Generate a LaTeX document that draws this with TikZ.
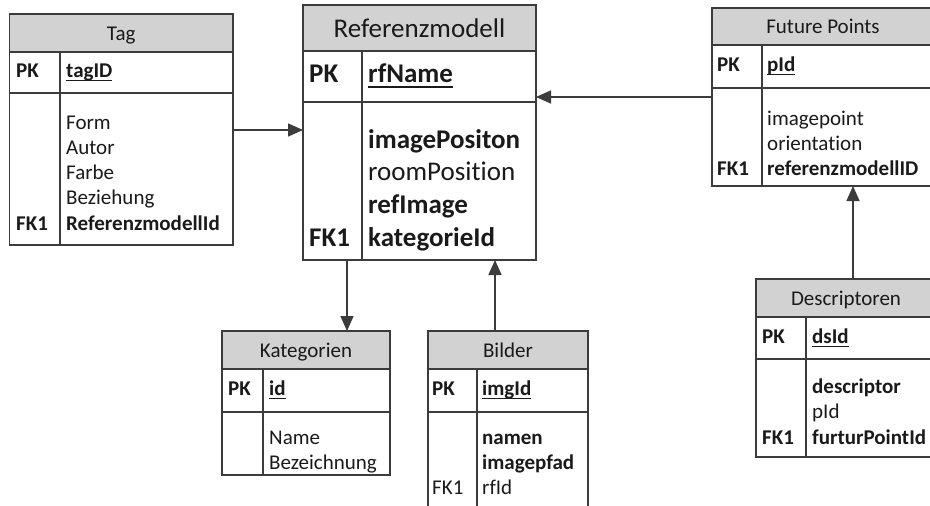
\documentclass[tikz,border=0pt]{standalone}
\usepackage{fontspec}
\setmainfont{Carlito}[Ligatures=NoCommon]
\usetikzlibrary{arrows.meta}

\definecolor{linec}{HTML}{3C3C3C}
\definecolor{hdrc}{HTML}{D2D2D2}
\definecolor{txtc}{HTML}{1A1A1A}

\newcommand\tabfont{\fontsize{21pt}{25pt}\selectfont}
\newcommand\bigtabfont{\fontsize{27pt}{33pt}\selectfont}
% underlined primary key name
\newcommand\pkul[1]{\setbox0=\hbox{#1}\rlap{\raisebox{-0.21em}{\rule{\wd0}{0.065em}}}\box0}

\tikzset{
  frame/.style={draw=linec, line width=1.3pt, inner sep=0pt, outer sep=0pt, anchor=north west},
  sepline/.style={draw=linec, line width=1.3pt},
  txt/.style={anchor=base west, inner sep=0pt, text=txtc, font=\tabfont},
  ttl/.style={anchor=base, inner sep=0pt, text=txtc, font=\tabfont},
  bigtxt/.style={txt, font=\bigtabfont},
  bigttl/.style={ttl, font=\bigtabfont},
  rel/.style={draw=linec, line width=1.6pt, -{Triangle[length=15pt,width=13pt]}},
}

\begin{document}
\begin{tikzpicture}[x=1pt,y=-1pt]
\useasboundingbox (0,0) rectangle (930,506);
\clip (0,0) rectangle (930,506);
\fill[white] (0,0) rectangle (930,506);

% ---------- Tag ----------
\fill[hdrc] (9.5,14) rectangle (233,52);
\node[frame, minimum width=223.5pt, minimum height=231pt] (tag) at (9.5,14) {};
\draw[sepline] (tag.west |- 0,52) -- (tag.east |- 0,52);
\draw[sepline] (tag.west |- 0,93) -- (tag.east |- 0,93);
\draw[sepline] (60,52) -- (tag.south -| 60,0);
\node[ttl] (tagT) at (121.25,41) {Tag};
\node[txt] (tagPK) at (16,77) {\bfseries PK};
\node[txt] (tagK) at (66,77) {\bfseries\pkul{tagID}};
\node[txt] (tagA1) at (66,129.2) {Form};
\node[txt] (tagA2) at (66,154.4) {Autor};
\node[txt] (tagA3) at (66,179.6) {Farbe};
\node[txt] (tagA4) at (66,204.8) {Beziehung};
\node[txt] (tagA5) at (66,230) {\bfseries ReferenzmodellId};
\node[txt] (tagFK) at (16,230) {\bfseries FK1};

% ---------- Referenzmodell ----------
\fill[hdrc] (303,5) rectangle (536,51);
\node[frame, minimum width=233pt, minimum height=255pt] (ref) at (303,5) {};
\draw[sepline] (ref.west |- 0,51) -- (ref.east |- 0,51);
\draw[sepline] (ref.west |- 0,102) -- (ref.east |- 0,102);
\draw[sepline] (362,51) -- (ref.south -| 362,0);
\node[bigttl] (refT) at (419.5,37) {Referenzmodell};
\node[bigtxt] (refPK) at (309,82) {\bfseries PK};
\node[bigtxt] (refK) at (368,82) {\bfseries\pkul{rfName}};
\node[bigtxt] (refA1) at (368,148) {\bfseries imagePositon};
\node[bigtxt] (refA2) at (368,180.7) {roomPosition};
\node[bigtxt] (refA3) at (368,213.3) {\bfseries refImage};
\node[bigtxt] (refA4) at (368,246) {\bfseries kategorieId};
\node[bigtxt] (refFK) at (309,246) {\bfseries FK1};

% ---------- Future Points ----------
\fill[hdrc] (712,8) rectangle (934,45);
\node[frame, minimum width=222pt, minimum height=178pt] (fp) at (712,8) {};
\draw[sepline] (fp.west |- 0,45) -- (fp.east |- 0,45);
\draw[sepline] (fp.west |- 0,88) -- (fp.east |- 0,88);
\draw[sepline] (762,45) -- (fp.south -| 762,0);
\node[ttl] (fpT) at (823,33.5) {Future Points};
\node[txt] (fpPK) at (717,71) {\bfseries PK};
\node[txt] (fpK) at (767,71) {\bfseries\pkul{pId}};
\node[txt] (fpA1) at (767,125) {imagepoint};
\node[txt] (fpA2) at (767,150.3) {orientation};
\node[txt] (fpA3) at (767,175.6) {\bfseries referenzmodellID};
\node[txt] (fpFK) at (717,175.6) {\bfseries FK1};

% ---------- Descriptoren ----------
\fill[hdrc] (756,279) rectangle (936,317);
\node[frame, minimum width=180pt, minimum height=178pt] (desc) at (756,279) {};
\draw[sepline] (desc.west |- 0,317) -- (desc.east |- 0,317);
\draw[sepline] (desc.west |- 0,359) -- (desc.east |- 0,359);
\draw[sepline] (806,317) -- (desc.south -| 806,0);
\node[ttl] (descT) at (846,305.5) {Descriptoren};
\node[txt] (descPK) at (762,343) {\bfseries PK};
\node[txt] (descK) at (812,343) {\bfseries\pkul{dsId}};
\node[txt] (descA1) at (812,393.4) {\bfseries descriptor};
\node[txt] (descA2) at (812,418.7) {pId};
\node[txt] (descA3) at (812,444) {\bfseries furturPointId};
\node[txt] (descFK) at (762,444) {\bfseries FK1};

% ---------- Kategorien ----------
\fill[hdrc] (222,331) rectangle (390,369);
\node[frame, minimum width=168pt, minimum height=144pt] (kat) at (222,331) {};
\draw[sepline] (kat.west |- 0,369) -- (kat.east |- 0,369);
\draw[sepline] (kat.west |- 0,412) -- (kat.east |- 0,412);
\draw[sepline] (263,369) -- (kat.south -| 263,0);
\node[ttl] (katT) at (306,357) {Kategorien};
\node[txt] (katPK) at (228,395) {\bfseries PK};
\node[txt] (katK) at (269,395) {\bfseries\pkul{id}};
\node[txt] (katA1) at (269,444) {Name};
\node[txt] (katA2) at (269,469) {Bezeichnung};

% ---------- Bilder ----------
\fill[hdrc] (428,331) rectangle (588,369);
\node[frame, minimum width=160pt, minimum height=200pt] (bil) at (428,331) {};
\draw[sepline] (bil.west |- 0,369) -- (bil.east |- 0,369);
\draw[sepline] (bil.west |- 0,412) -- (bil.east |- 0,412);
\draw[sepline] (477,369) -- (bil.south -| 477,0);
\node[ttl] (bilT) at (508,357) {Bilder};
\node[txt] (bilPK) at (432,395) {\bfseries PK};
\node[txt] (bilK) at (482,395) {\bfseries\pkul{imgId}};
\node[txt] (bilA1) at (482,444) {\bfseries namen};
\node[txt] (bilA2) at (482,469) {\bfseries imagepfad};
\node[txt] (bilA3) at (482,494) {rfId};
\node[txt] (bilFK) at (432,494) {FK1};

% ---------- relations ----------
\draw[rel] (tag.east |- 0,130) -- (ref.west |- 0,130);
\draw[rel] (fp.west |- 0,97) -- (ref.east |- 0,97);
\draw[rel] (ref.south -| 347,0) -- (kat.north -| 347,0);
\draw[rel] (bil.north -| 495,0) -- (ref.south -| 495,0);
\draw[rel] (desc.north -| 853,0) -- (fp.south -| 853,0);
\end{tikzpicture}
\end{document}
